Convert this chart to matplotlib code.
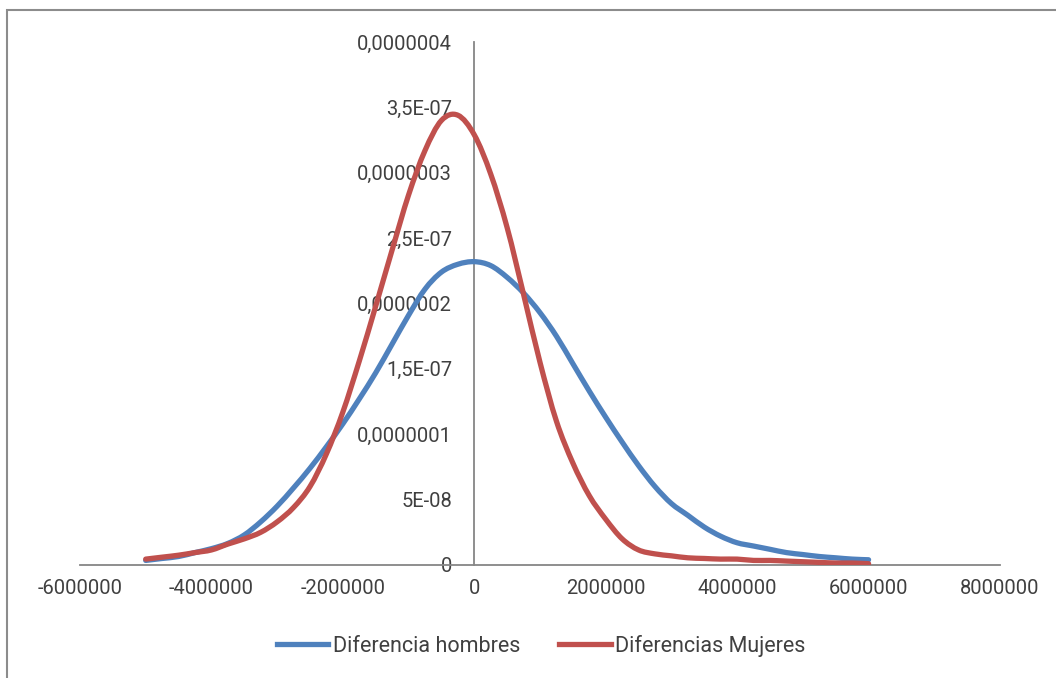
import matplotlib
matplotlib.use("Agg")
import matplotlib.pyplot as plt
from matplotlib.patches import Rectangle, PathPatch
from matplotlib.path import Path
from matplotlib.lines import Line2D
from matplotlib import font_manager

names = {f.name for f in font_manager.fontManager.ttflist}
fam = 'Roboto' if 'Roboto' in names else 'DejaVu Sans'
plt.rcParams['font.family'] = [fam, 'DejaVu Sans']

x_vals = [-5.0, -4.75, -4.5, -4.25, -4.0, -3.75, -3.5, -3.25, -3.0, -2.75, -2.5, -2.25,
          -2.0, -1.75, -1.5, -1.25, -1.0, -0.75, -0.5, -0.25, 0.0, 0.25, 0.5, 0.75,
          1.0, 1.25, 1.5, 1.75, 2.0, 2.25, 2.5, 2.75, 3.0, 3.25, 3.5, 3.75, 4.0, 4.25,
          4.5, 4.75, 5.0, 5.25, 5.5, 5.75, 6.0]  # millions

hombres = [0.35, 0.5, 0.65, 0.95, 1.25, 1.65, 2.3, 3.3, 4.5, 5.9, 7.4, 9.05,
           10.8, 12.7, 14.7, 16.9, 19.1, 21.1, 22.4, 23.0, 23.2, 22.9, 22.0, 20.8,
           19.3, 17.5, 15.4, 13.3, 11.3, 9.4, 7.6, 6.0, 4.7, 3.8, 2.9, 2.2, 1.7, 1.45,
           1.2, 0.95, 0.8, 0.65, 0.55, 0.45, 0.4]  # x1e-8

mujeres = [0.45, 0.6, 0.75, 0.95, 1.15, 1.6, 2.0, 2.5, 3.3, 4.4, 6.0, 8.5,
           11.7, 15.6, 19.8, 24.1, 28.3, 31.7, 34.0, 34.4, 32.9, 29.9, 25.8, 20.7,
           15.5, 11.0, 7.8, 5.3, 3.5, 2.0, 1.15, 0.85, 0.7, 0.55, 0.5, 0.45, 0.45, 0.35,
           0.35, 0.3, 0.25, 0.2, 0.15, 0.15, 0.1]  # x1e-8

x_ticks = [-6000000, -4000000, -2000000, 0, 2000000, 4000000, 6000000, 8000000]
y_ticks = [0, 5e-8, 1e-7, 1.5e-7, 2e-7, 2.5e-7, 3e-7, 3.5e-7, 4e-7]
y_tick_labels = ["0", "5E-08", "0,0000001", "1,5E-07", "0,0000002", "2,5E-07",
                 "0,0000003", "3,5E-07", "0,0000004"]
series_names = ["Diferencia hombres", "Diferencias Mujeres"]
colors = ['#4F81BD', '#C0504D']

W, H = 1056, 678
fig = plt.figure(figsize=(W / 100, H / 100), dpi=100)
fig.patches.append(Rectangle((7 / W, -0.1), 1.2, 1 - 10 / H + 0.1, transform=fig.transFigure,
                             fill=False, edgecolor='#8c8c8c', linewidth=1.5))

ax = fig.add_axes([80 / W, 1 - 565 / H, 920 / W, (565 - 42) / H])


def smooth_path(xs, ys, t=1 / 6):
    # Excel-like smoothed line: Catmull-Rom spline drawn as cubic Bezier segments
    verts = [(xs[0], ys[0])]
    codes = [Path.MOVETO]
    n = len(xs)
    for i in range(n - 1):
        x0, y0 = (xs[i - 1], ys[i - 1]) if i > 0 else (xs[i], ys[i])
        x1, y1 = xs[i], ys[i]
        x2, y2 = xs[i + 1], ys[i + 1]
        x3, y3 = (xs[i + 2], ys[i + 2]) if i + 2 < n else (x2, y2)
        verts += [(x1 + (x2 - x0) * t, y1 + (y2 - y0) * t),
                  (x2 - (x3 - x1) * t, y2 - (y3 - y1) * t),
                  (x2, y2)]
        codes += [Path.CURVE4] * 3
    return Path(verts, codes)


xs = [v * 1e6 for v in x_vals]
handles = []
for series, col, name in zip([hombres, mujeres], colors, series_names):
    ys = [v * 1e-8 for v in series]
    ax.add_patch(PathPatch(smooth_path(xs, ys), facecolor='none', edgecolor=col, lw=3.8,
                           capstyle='round', joinstyle='round', zorder=3))
    handles.append(Line2D([], [], color=col, lw=3.8, label=name))

ax.set_xlim(-6000000, 8000000)
ax.set_ylim(0, 4e-7)
ax.set_xticks(x_ticks)
ax.set_xticklabels([str(t) for t in x_ticks])
ax.set_yticks(y_ticks)
ax.set_yticklabels(y_tick_labels)

for s in ['top', 'right']:
    ax.spines[s].set_visible(False)
ax.spines['left'].set_position(('data', 0))
for s in ['left', 'bottom']:
    ax.spines[s].set_color('#868686')
    ax.spines[s].set_linewidth(1.3)
ax.tick_params(axis='both', length=0, labelsize=14.5, labelcolor='#404040')
ax.tick_params(axis='x', pad=10)
ax.tick_params(axis='y', pad=16)

leg = fig.legend(handles=handles, loc='center', bbox_to_anchor=(541 / W, 1 - 646 / H), ncol=2,
                 frameon=False, fontsize=15.5, labelcolor='#404040', handlelength=2.4,
                 handletextpad=0.2, columnspacing=1.8)

fig.savefig('out.png', dpi=100)
